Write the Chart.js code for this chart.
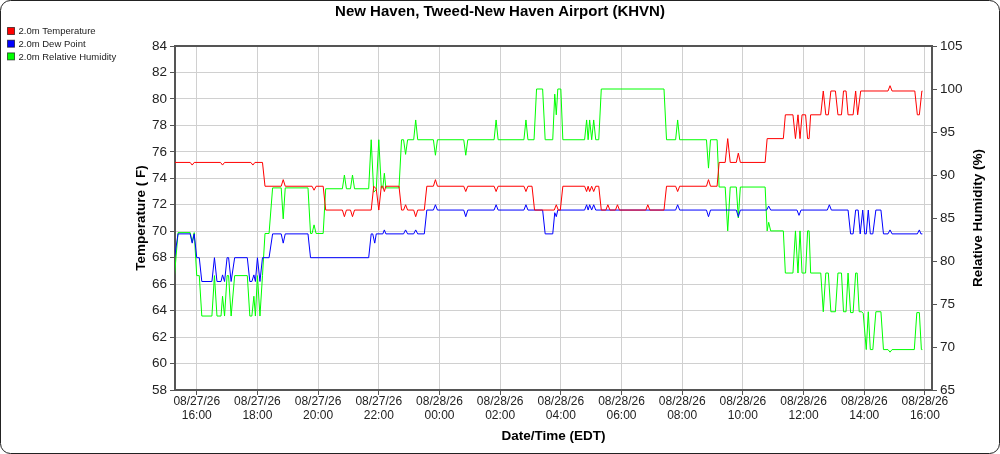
<!DOCTYPE html>
<html>
<head>
<meta charset="utf-8">
<title>KHVN meteogram</title>
<script src="https://cdn.jsdelivr.net/npm/chart.js@4.4.1/dist/chart.umd.min.js"></script>
<style>
    html, body { margin: 0; padding: 0; background: #fff; }
    #wrap { width: 1000px; height: 454px; }
</style>
</head>
<body>
<div id="wrap"><canvas id="meteogram" width="1000" height="454"></canvas></div>
<script>
// times are "DD HH:MM" (August 2026, EDT)
var tempTimes = ["27 15:16","27 15:47","27 15:51","27 15:55","27 16:47","27 16:51","27 16:55","27 17:47","27 17:51","27 17:55",
    "27 18:10","27 18:15","27 18:47","27 18:51","27 18:55","27 19:48","27 19:52","27 19:56","27 20:10","27 20:15",
    "27 20:48","27 20:52","27 20:56","27 21:04","27 21:08","27 21:12","27 21:45","27 21:50","27 21:55","27 22:00",
    "27 22:05","27 22:08","27 22:11","27 22:14","27 22:40","27 22:45","27 22:49","27 22:53","27 22:57","27 23:09",
    "27 23:13","27 23:17","27 23:30","27 23:35","27 23:48","27 23:52","27 23:56","28 00:48","28 00:52","28 00:56",
    "28 01:48","28 01:52","28 01:56","28 02:47","28 02:51","28 02:55","28 03:03","28 03:08","28 03:47","28 03:51",
    "28 03:55","28 03:59","28 04:04","28 04:47","28 04:51","28 04:54","28 04:57","28 05:01","28 05:05","28 05:09",
    "28 05:15","28 05:20","28 05:29","28 05:33","28 05:37","28 05:48","28 05:52","28 05:56","28 06:48","28 06:52",
    "28 06:56","28 07:24","28 07:29","28 07:47","28 07:51","28 07:55","28 08:48","28 08:52","28 08:56","28 09:09",
    "28 09:13","28 09:25","28 09:30","28 09:35","28 09:47","28 09:51","28 09:55","28 10:44","28 10:48","28 11:20",
    "28 11:24","28 11:39","28 11:44","28 11:49","28 11:53","28 11:57","28 12:04","28 12:08","28 12:11","28 12:14",
    "28 12:34","28 12:39","28 12:44","28 12:49","28 12:54","28 13:03","28 13:08","28 13:15","28 13:19","28 13:24",
    "28 13:28","28 13:38","28 13:43","28 13:47","28 13:53","28 14:47","28 14:51","28 14:55","28 15:40","28 15:45",
    "28 15:49","28 15:54","28 15:55"];
var tempVals = [75.2,75.2,75.0,75.2,75.2,75.0,75.2,75.2,75.0,75.2,
    75.2,73.4,73.4,73.9,73.4,73.4,73.1,73.4,73.4,71.6,
    71.6,71.1,71.6,71.6,71.1,71.6,71.6,73.4,73.2,71.6,
    73.4,73.4,73.0,73.4,73.4,71.6,71.6,72.0,71.6,71.6,
    71.1,71.6,71.6,73.4,73.4,73.9,73.4,73.4,73.0,73.4,
    73.4,73.0,73.4,73.4,73.0,73.4,73.4,71.6,71.6,72.0,
    71.6,71.6,73.4,73.4,73.0,73.4,73.0,73.4,73.0,73.4,
    73.4,71.6,71.6,72.0,71.6,71.6,72.0,71.6,71.6,72.0,
    71.6,71.6,73.4,73.4,73.0,73.4,73.4,73.9,73.4,73.4,
    75.2,75.2,77.0,75.2,75.2,75.9,75.2,75.2,77.0,77.0,
    78.8,78.8,77.0,78.8,77.0,78.8,78.8,77.0,77.0,78.8,
    78.8,80.6,78.8,78.8,80.6,80.6,78.8,78.8,80.6,80.6,
    78.8,78.8,80.6,78.8,80.6,80.6,81.0,80.6,80.6,78.8,
    78.8,80.6,80.6];

var dewTimes = ["27 15:16","27 15:23","27 15:47","27 15:51","27 15:55","27 16:00","27 16:05","27 16:10","27 16:30","27 16:35",
    "27 16:40","27 16:48","27 16:51","27 16:55","27 17:00","27 17:03","27 17:08","27 17:15","27 17:40","27 17:45",
    "27 17:49","27 17:53","27 17:56","27 18:00","27 18:05","27 18:10","27 18:23","27 18:30","27 18:47","27 18:51",
    "27 18:55","27 19:40","27 19:45","27 21:40","27 21:45","27 21:48","27 21:52","27 21:55","27 22:08","27 22:11",
    "27 22:14","27 22:49","27 22:53","27 22:57","27 23:09","27 23:13","27 23:17","27 23:30","27 23:35","27 23:48",
    "27 23:52","27 23:56","28 00:48","28 00:52","28 00:56","28 01:48","28 01:52","28 01:56","28 02:47","28 02:51",
    "28 02:55","28 03:24","28 03:29","28 03:44","28 03:48","28 03:51","28 03:54","28 04:47","28 04:51","28 04:54",
    "28 04:57","28 05:01","28 05:05","28 05:09","28 07:47","28 07:51","28 07:55","28 08:48","28 08:52","28 08:56",
    "28 09:47","28 09:51","28 09:55","28 10:47","28 10:51","28 10:55","28 11:47","28 11:51","28 11:55","28 12:47",
    "28 12:51","28 12:55","28 13:28","28 13:33","28 13:38","28 13:43","28 13:48","28 13:52","28 13:57","28 14:01",
    "28 14:04","28 14:08","28 14:12","28 14:17","28 14:23","28 14:33","28 14:38","28 14:47","28 14:51","28 14:55",
    "28 15:45","28 15:49","28 15:52","28 15:55"];
var dewVals = [68.0,69.8,69.8,69.1,69.8,68.0,68.0,66.2,66.2,68.0,
    66.2,66.2,66.7,66.2,68.0,68.0,66.2,68.0,68.0,66.2,
    66.2,66.7,66.2,68.0,66.2,68.0,68.0,69.8,69.8,69.1,
    69.8,69.8,68.0,68.0,69.8,69.8,69.1,69.8,69.8,70.1,
    69.8,69.8,70.1,69.8,69.8,70.1,69.8,69.8,71.6,71.6,
    72.0,71.6,71.6,71.1,71.6,71.6,72.0,71.6,71.6,72.0,
    71.6,71.6,69.8,69.8,71.4,71.1,71.6,71.6,72.0,71.6,
    72.0,71.6,72.0,71.6,71.6,72.0,71.6,71.6,71.1,71.6,
    71.6,71.1,71.6,71.6,71.9,71.6,71.6,71.2,71.6,71.6,
    72.0,71.6,71.6,69.8,69.8,71.6,71.6,69.8,71.6,69.8,
    69.8,71.6,69.8,69.8,71.6,71.6,69.8,69.8,70.1,69.8,
    69.8,70.1,69.8,69.8];

var rhTimes = ["27 15:16","27 15:23","27 15:47","27 15:51","27 15:55","27 16:00","27 16:05","27 16:10","27 16:30","27 16:35",
    "27 16:40","27 16:48","27 16:51","27 16:55","27 17:00","27 17:03","27 17:08","27 17:15","27 17:40","27 17:45",
    "27 17:49","27 17:53","27 17:56","27 18:00","27 18:05","27 18:10","27 18:15","27 18:23","27 18:30","27 18:47",
    "27 18:51","27 18:55","27 19:40","27 19:45","27 19:48","27 19:52","27 19:56","27 20:10","27 20:15","27 20:48",
    "27 20:52","27 20:56","27 21:04","27 21:08","27 21:12","27 21:40","27 21:45","27 21:50","27 21:55","27 22:00",
    "27 22:05","27 22:08","27 22:11","27 22:14","27 22:40","27 22:45","27 22:49","27 22:53","27 22:57","27 23:09",
    "27 23:13","27 23:17","27 23:48","27 23:52","27 23:56","28 00:48","28 00:52","28 00:56","28 01:48","28 01:52",
    "28 01:56","28 02:47","28 02:51","28 02:55","28 03:07","28 03:12","28 03:24","28 03:29","28 03:44","28 03:48",
    "28 03:51","28 03:54","28 04:00","28 04:04","28 04:47","28 04:51","28 04:54","28 04:57","28 05:01","28 05:05",
    "28 05:09","28 05:15","28 05:20","28 07:24","28 07:29","28 07:47","28 07:51","28 07:55","28 08:48","28 08:52",
    "28 08:56","28 09:09","28 09:13","28 09:25","28 09:30","28 09:35","28 09:47","28 09:51","28 09:55","28 10:44",
    "28 10:48","28 10:51","28 10:55","28 11:20","28 11:24","28 11:39","28 11:44","28 11:49","28 11:53","28 11:57",
    "28 12:04","28 12:08","28 12:11","28 12:14","28 12:34","28 12:39","28 12:44","28 12:49","28 12:54","28 13:03",
    "28 13:08","28 13:15","28 13:19","28 13:24","28 13:28","28 13:33","28 13:38","28 13:43","28 13:46","28 13:50",
    "28 13:55","28 13:58","28 14:04","28 14:08","28 14:12","28 14:17","28 14:23","28 14:33","28 14:38","28 14:47",
    "28 14:51","28 14:55","28 15:39","28 15:44","28 15:49","28 15:53","28 15:55"];
var rhVals = [78.3,83.3,83.3,82.2,83.3,78.3,78.3,73.6,73.6,78.3,
    73.6,73.6,75.9,73.6,78.3,78.3,73.6,78.3,78.3,73.6,
    73.6,75.9,73.6,78.3,73.6,78.3,83.2,83.2,88.5,88.5,
    84.9,88.5,88.5,83.2,83.2,84.2,83.2,83.2,88.4,88.4,
    90.0,88.4,88.4,90.0,88.4,88.4,94.1,88.0,88.3,94.1,
    88.5,88.5,90.2,88.5,88.5,94.1,94.1,92.4,94.1,94.1,
    96.4,94.1,94.1,92.3,94.1,94.1,92.3,94.1,94.1,96.4,
    94.1,94.1,96.4,94.1,94.1,100,100,94.1,94.1,99.4,
    97.0,100,100,94.1,94.1,96.4,94.1,96.4,94.1,96.4,
    94.1,94.1,100,100,94.1,94.1,96.4,94.1,94.1,90.8,
    94.1,94.1,88.6,88.6,83.5,88.6,88.6,85.0,88.6,88.6,
    83.5,84.5,83.5,83.5,78.6,78.6,83.5,78.6,83.5,78.6,
    78.6,83.5,83.5,78.6,78.6,74.1,78.6,78.6,74.1,74.1,
    78.6,78.6,74.1,74.1,78.6,74.0,74.0,78.6,78.6,74.1,
    74.1,73.9,69.7,74.1,69.7,69.7,74.1,74.1,69.7,69.7,
    69.4,69.7,69.7,74.0,74.0,69.7,69.7];

var tickTimes = ["27 16:00","27 18:00","27 20:00","27 22:00","28 00:00","28 02:00","28 04:00",
    "28 06:00","28 08:00","28 10:00","28 12:00","28 14:00","28 16:00"];
var seriesNames = ["2.0m Temperature", "2.0m Dew Point", "2.0m Relative Humidity"];
var seriesColors = ["rgb(255, 0, 0)", "rgb(0, 0, 255)", "rgb(0, 255, 0)"];

// minutes since 08/27 00:00
function toMin(s) {
    return (parseInt(s.slice(0, 2), 10) - 27) * 1440 + parseInt(s.slice(3, 5), 10) * 60 + parseInt(s.slice(6, 8), 10);
}
function pts(times, vals) {
    return times.map(function(t, i) { return { x: toMin(t), y: vals[i] }; });
}

var tickVals = tickTimes.map(toMin);
var fontFamily = "'Liberation Sans', Arial, sans-serif";
Chart.defaults.font.family = fontFamily;

var decor = {
    id: 'decor',
    beforeDraw: function(chart) {
        var ctx = chart.ctx;
        ctx.save();
        ctx.fillStyle = '#fff';
        ctx.fillRect(0, 0, chart.width, chart.height);
        ctx.restore();
    },
    afterDraw: function(chart) {
        var ctx = chart.ctx, a = chart.chartArea;
        ctx.save();

        // top edge of the plot frame
        ctx.strokeStyle = '#555';
        ctx.lineWidth = 2;
        ctx.beginPath();
        ctx.moveTo(a.left - 1, a.top);
        ctx.lineTo(a.right + 1, a.top);
        ctx.stroke();

        // outer rounded border
        ctx.strokeStyle = '#222';
        ctx.lineWidth = 1;
        ctx.beginPath();
        ctx.roundRect(0.5, 0.5, chart.width - 1, chart.height - 1, 10);
        ctx.stroke();

        ctx.fillStyle = '#000';
        ctx.textAlign = 'center';
        ctx.textBaseline = 'middle';
        ctx.font = 'bold 15px ' + fontFamily;
        ctx.fillText('New Haven, Tweed-New Haven Airport (KHVN)', 500, 12);

        ctx.font = 'bold 13.5px ' + fontFamily;
        ctx.fillText('Date/Time (EDT)', (a.left + a.right) / 2, 436);
        var midY = (a.top + a.bottom) / 2;
        [[141, 'Temperature ( F)'], [978, 'Relative Humidity (%)']].forEach(function(t) {
            ctx.save();
            ctx.translate(t[0], midY);
            ctx.rotate(-Math.PI / 2);
            ctx.fillText(t[1], 0, 0);
            ctx.restore();
        });

        // legend
        ctx.textAlign = 'left';
        ctx.font = '9.5px ' + fontFamily;
        seriesNames.forEach(function(name, i) {
            var y = 31 + i * 12.7;
            ctx.fillStyle = seriesColors[i];
            ctx.fillRect(7.5, y - 3.5, 7, 7);
            ctx.strokeStyle = 'rgba(0,0,0,0.6)';
            ctx.strokeRect(7.5, y - 3.5, 7, 7);
            ctx.fillStyle = '#222';
            ctx.fillText(name, 18.5, y + 0.5);
        });
        ctx.restore();
    }
};

var gridColor = '#d0d0d0';
var axisColor = '#555';
var tickFont = { size: 13.5 };

new Chart(document.getElementById('meteogram').getContext('2d'), {
    type: 'line',
    data: {
        datasets: [
            { label: seriesNames[0], data: pts(tempTimes, tempVals), borderColor: seriesColors[0], yAxisID: 'y' },
            { label: seriesNames[1], data: pts(dewTimes, dewVals), borderColor: seriesColors[1], yAxisID: 'y' },
            { label: seriesNames[2], data: pts(rhTimes, rhVals), borderColor: seriesColors[2], yAxisID: 'y1' }
        ]
    },
    options: {
        responsive: false,
        animation: false,
        devicePixelRatio: 1,
        layout: { padding: { top: 46, left: 0, right: 0, bottom: 0 } },
        elements: {
            line: { borderWidth: 1, tension: 0, fill: false },
            point: { radius: 0 }
        },
        plugins: {
            legend: { display: false },
            title: { display: false },
            tooltip: { enabled: false }
        },
        scales: {
            x: {
                type: 'linear',
                min: 917,
                max: 2414,
                afterBuildTicks: function(scale) {
                    scale.ticks = tickVals.map(function(v) { return { value: v }; });
                },
                afterFit: function(scale) { scale.height = 64; },
                grid: { color: gridColor, lineWidth: 1, tickColor: axisColor, tickLength: 5 },
                border: { color: axisColor, width: 2 },
                ticks: {
                    autoSkip: false,
                    maxRotation: 0,
                    padding: 0,
                    color: '#222',
                    font: { size: 12, lineHeight: 1.15 },
                    callback: function(value) {
                        var i = tickVals.indexOf(value);
                        if (i < 0) return '';
                        var s = tickTimes[i];
                        return ['08/' + s.slice(0, 2) + '/26', s.slice(3)];
                    }
                }
            },
            y: {
                position: 'left',
                min: 58,
                max: 84,
                afterFit: function(scale) { scale.width = 175; },
                grid: { color: gridColor, lineWidth: 1, tickColor: axisColor, tickLength: 5 },
                border: { color: axisColor, width: 2 },
                ticks: { stepSize: 2, padding: 3, color: '#222', font: tickFont }
            },
            y1: {
                position: 'right',
                min: 65,
                max: 105,
                afterFit: function(scale) { scale.width = 68; },
                grid: { drawOnChartArea: false, tickColor: axisColor, tickLength: 5 },
                border: { color: axisColor, width: 2 },
                ticks: { stepSize: 5, padding: 3, color: '#222', font: tickFont }
            }
        }
    },
    plugins: [decor]
});
</script>
</body>
</html>
